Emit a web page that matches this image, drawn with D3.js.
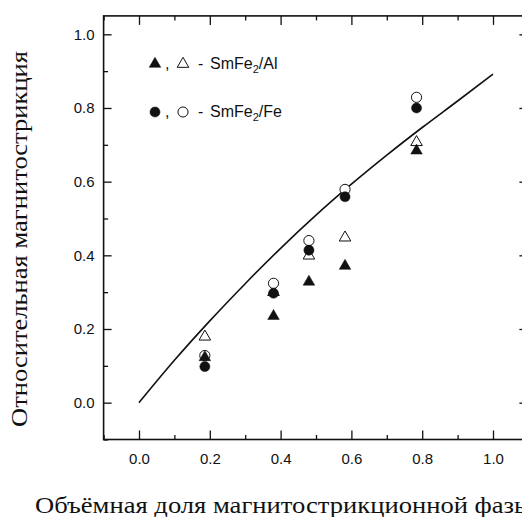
<!DOCTYPE html>
<html>
<head>
<meta charset="utf-8">
<script src="https://cdn.jsdelivr.net/npm/d3@7/dist/d3.min.js"></script>
<style>
  html, body { margin: 0; padding: 0; background: #fff; }
  svg { display: block; }
</style>
</head>
<body>
<svg id="chart" width="522" height="517"></svg>
<script>
// Volume fraction of the magnetostrictive phase at each measured composite
const fractions = [0.186, 0.38, 0.48, 0.582, 0.784];
// SmFe2/Al composites
const alFilled = [0.123, 0.235, 0.328, 0.371, 0.684];
const alOpen   = [0.179, 0.300, 0.399, 0.448, 0.707];
// SmFe2/Fe composites
const feFilled = [0.098, 0.297, 0.414, 0.559, 0.800];
const feOpen   = [0.128, 0.324, 0.440, 0.579, 0.829];
// Calculated dependence (solid curve)
const curveX = [0, 0.1, 0.2, 0.3, 0.4, 0.5, 0.6, 0.7, 0.8, 0.9, 1.0];
const curveY = [0, 0.115, 0.222, 0.323, 0.419, 0.509, 0.593, 0.672, 0.747, 0.819, 0.892];
// Tick values
const xMajor = [0, 0.2, 0.4, 0.6, 0.8, 1.0];
const xMinor = [-0.1, 0.1, 0.3, 0.5, 0.7, 0.9, 1.1];
const yMajor = [0, 0.2, 0.4, 0.6, 0.8, 1.0];
const yMinor = [-0.1, 0.1, 0.3, 0.5, 0.7, 0.9];

const svg = d3.select("#chart");
const frameL = 103.6, frameR = 528.4, frameT = 15.9, frameB = 439.5;

const x = d3.scaleLinear().domain([-0.1, 1.1]).range([frameL, frameR]);
const y = d3.scaleLinear().domain([-0.1, 1.05]).range([frameB, frameT]);

const tickFont = "Liberation Sans, Arial, Helvetica, sans-serif";
const fmt = d3.format(".1f");

function styleAxis(g) {
  g.select(".domain").remove();
  g.selectAll(".tick line").attr("stroke", "#111").attr("stroke-width", 1.3);
  g.selectAll(".tick text")
    .attr("fill", "#111")
    .style("font-family", tickFont)
    .style("font-size", "15px");
}

// bottom axis
svg.append("g").attr("transform", `translate(0,${frameB})`)
  .call(d3.axisBottom(x).tickValues(xMajor).tickFormat(fmt).tickSize(-9).tickPadding(14))
  .call(styleAxis);
svg.append("g").attr("transform", `translate(0,${frameB})`)
  .call(d3.axisBottom(x).tickValues(xMinor).tickFormat("").tickSize(-4.5))
  .call(styleAxis);
// top axis
svg.append("g").attr("transform", `translate(0,${frameT})`)
  .call(d3.axisTop(x).tickValues(xMajor).tickFormat("").tickSize(-9))
  .call(styleAxis);
svg.append("g").attr("transform", `translate(0,${frameT})`)
  .call(d3.axisTop(x).tickValues(xMinor).tickFormat("").tickSize(-4.5))
  .call(styleAxis);
// left axis
svg.append("g").attr("transform", `translate(${frameL},0)`)
  .call(d3.axisLeft(y).tickValues(yMajor).tickFormat(fmt).tickSize(-8).tickPadding(9))
  .call(styleAxis);
svg.append("g").attr("transform", `translate(${frameL},0)`)
  .call(d3.axisLeft(y).tickValues(yMinor).tickFormat("").tickSize(-4.5))
  .call(styleAxis);
// right axis
svg.append("g").attr("transform", `translate(${frameR},0)`)
  .call(d3.axisRight(y).tickValues(yMajor).tickFormat("").tickSize(-9))
  .call(styleAxis);
svg.append("g").attr("transform", `translate(${frameR},0)`)
  .call(d3.axisRight(y).tickValues(yMinor).tickFormat("").tickSize(-4.5))
  .call(styleAxis);

// frame
svg.append("rect")
  .attr("x", frameL).attr("y", frameT)
  .attr("width", frameR - frameL).attr("height", frameB - frameT)
  .attr("fill", "none").attr("stroke", "#111").attr("stroke-width", 1.6);

// solid curve
const line = d3.line().x(d => x(d[0])).y(d => y(d[1])).curve(d3.curveMonotoneX);
svg.append("path")
  .datum(d3.zip(curveX, curveY))
  .attr("d", line)
  .attr("fill", "none").attr("stroke", "#111").attr("stroke-width", 1.6);

// markers
const tri = d3.symbol(d3.symbolTriangle, 58)();
const circ = d3.symbol(d3.symbolCircle, 80)();
const openCirc = d3.symbol(d3.symbolCircle, 82)();

function drawMarks(values, path, filled) {
  svg.append("g").selectAll("path")
    .data(d3.zip(fractions, values))
    .join("path")
    .attr("d", path)
    .attr("transform", d => `translate(${x(d[0])},${y(d[1])})`)
    .attr("fill", filled ? "#111" : "#fff")
    .attr("stroke", "#111")
    .attr("stroke-width", filled ? 0.5 : 1);
}
drawMarks(alOpen, tri, false);
drawMarks(feOpen, openCirc, false);
drawMarks(alFilled, tri, true);
drawMarks(feFilled, circ, true);

// legend
const legend = svg.append("g").style("font-family", tickFont).style("font-size", "16px").attr("fill", "#111");
function legendRow(cy, sym, label) {
  legend.append("path").attr("d", sym).attr("transform", `translate(155,${cy})`)
    .attr("fill", "#111").attr("stroke", "#111").attr("stroke-width", 0.5);
  legend.append("text").attr("x", 165).attr("y", cy + 5).text(",");
  legend.append("path").attr("d", sym).attr("transform", `translate(183,${cy})`)
    .attr("fill", "#fff").attr("stroke", "#111").attr("stroke-width", 1);
  legend.append("text").attr("x", 198).attr("y", cy + 5).text("-");
  const t = legend.append("text").attr("x", 210).attr("y", cy + 5);
  t.append("tspan").text("SmFe");
  t.append("tspan").attr("dy", 4).style("font-size", "11px").text("2");
  t.append("tspan").attr("dy", -4).text(label);
}
legendRow(64, tri, "/Al");
legendRow(112, circ, "/Fe");

// axis titles
const titleFont = "Liberation Serif, 'Times New Roman', Times, serif";
svg.append("text")
  .attr("transform", "translate(27,239) rotate(-90)")
  .attr("text-anchor", "middle")
  .attr("textLength", 376).attr("lengthAdjust", "spacingAndGlyphs")
  .style("font-family", titleFont).style("font-size", "24px")
  .attr("fill", "#111")
  .text("Относительная магнитострикция");
svg.append("text")
  .attr("x", 35).attr("y", 513)
  .attr("textLength", 497).attr("lengthAdjust", "spacingAndGlyphs")
  .style("font-family", titleFont).style("font-size", "24px")
  .attr("fill", "#111")
  .text("Объёмная доля магнитострикционной фазы");
</script>
</body>
</html>
